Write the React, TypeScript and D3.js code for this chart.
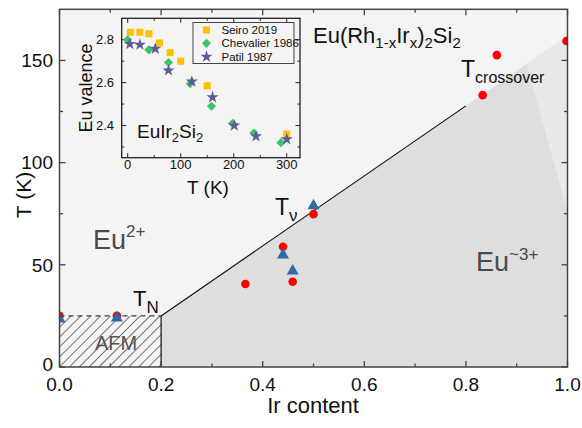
import React from "react";
import * as d3 from "d3";

// main panel data
const redX = [0, 0.113, 0.366, 0.44, 0.459, 0.5, 0.833, 0.861, 0.998];
const redT = [25, 25, 40.6, 58.8, 41.7, 74.8, 133, 152.6, 159.5];
const blueX = [0, 0.113, 0.44, 0.459, 0.5];
const blueT = [23.5, 24, 54.8, 47, 78.9];

const tnT = 25; // AFM ordering temperature
const afmEdge = 0.2;
const boundary = [[0.2, 25], [1.0, 162]];
const lineEnd = 0.8;
const wedge = [[0.919, 148.5], [1.0, 162], [1.0, 76]];

const xMajor = [0, 0.2, 0.4, 0.6, 0.8, 1.0];
const xMinor = [0.1, 0.3, 0.5, 0.7, 0.9];
const yMajor = [0, 50, 100, 150];
const yMinor = [25, 75, 125];

// inset data: Eu valence vs T
const seiroT = [5, 23, 40, 60, 80, 100, 150, 300];
const seiroV = [2.835, 2.835, 2.828, 2.785, 2.74, 2.7, 2.585, 2.36];
const chevT = [0, 40, 77, 118, 158, 198, 238, 289];
const chevV = [2.8, 2.753, 2.694, 2.595, 2.49, 2.41, 2.365, 2.32];
const patilT = [4, 23, 52, 77, 121, 160, 201, 242, 300];
const patilV = [2.78, 2.777, 2.758, 2.657, 2.605, 2.532, 2.4, 2.35, 2.336];

const ixMajor = [0, 100, 200, 300];
const ixMinor = [50, 150, 250];
const iyMajor = [2.4, 2.6, 2.8];
const iyMinor = [2.3, 2.5, 2.7];

const FONT = "Liberation Sans, Arial, sans-serif";

export default function App() {
  const x = d3.scaleLinear().domain([0, 1]).range([59.5, 567.5]);
  const y = d3.scaleLinear().domain([0, 175]).range([367, 9.3]);
  const ix = d3.scaleLinear().domain([-11.3, 325]).range([121.7, 300]);
  const iy = d3.scaleLinear().domain([2.25, 2.9]).range([157.7, 18.3]);

  const [x0, x1] = x.range();
  const [y0, y1] = y.range();
  const [ix0, ix1] = ix.range();
  const [iy0, iy1] = iy.range();

  const poly = d3.line<number[]>().x(d => x(d[0])).y(d => y(d[1]));
  const slope = (boundary[1][1] - boundary[0][1]) / (boundary[1][0] - boundary[0][0]);
  const darkPoly: number[][] = [[afmEdge, 0], boundary[0], boundary[1], [1, 0]];
  const lineEndT = boundary[0][1] + slope * (lineEnd - boundary[0][0]);

  const tri = d3.symbol(d3.symbolTriangle, 62)();
  const sq = d3.symbol(d3.symbolSquare, 50)();
  const dia = d3.symbol(d3.symbolSquare, 42)();
  const star = d3.symbol(d3.symbolStar, 46)();

  const axisCol = "#444";

  return (
    <svg width={582} height={428} style={{ position: "absolute", left: 0, top: 0 }} fontFamily={FONT}>
      <defs>
        <clipPath id="plot">
          <rect x={x0} y={y1} width={x1 - x0} height={y0 - y1} />
        </clipPath>
        <pattern id="hatch" patternUnits="userSpaceOnUse" width={7} height={7} patternTransform="rotate(45)">
          <line x1={0} y1={0} x2={0} y2={7} stroke="#1a1a1a" strokeWidth={1.2} />
        </pattern>
      </defs>
      <rect x={0} y={0} width={582} height={428} fill="#fff" />
      <rect x={x0} y={y1} width={x1 - x0} height={y0 - y1} fill="#f4f4f4" />
      <path d={poly(darkPoly) + "Z"} fill="#dedede" />
      <path d={poly(wedge) + "Z"} fill="#e9e9e9" />
      <rect x={x(0)} y={y(tnT)} width={x(afmEdge) - x(0)} height={y(0) - y(tnT)} fill="url(#hatch)" />
      <line x1={x(0)} x2={x(afmEdge)} y1={y(tnT)} y2={y(tnT)} stroke="#111" strokeWidth={1} strokeDasharray="5,4" />
      <line x1={x(afmEdge)} x2={x(afmEdge)} y1={y(0)} y2={y(tnT)} stroke="#111" strokeWidth={1.2} />
      <line x1={x(boundary[0][0])} y1={y(boundary[0][1])} x2={x(lineEnd)} y2={y(lineEndT)} stroke="#111" strokeWidth={1.2} />

      <g clipPath="url(#plot)">
        {redX.map((d, i) => (
          <circle key={"r" + i} cx={x(d)} cy={y(redT[i])} r={4.3} fill="#ff0000" />
        ))}
        {blueX.map((d, i) => (
          <path key={"b" + i} d={tri!} transform={`translate(${x(d)},${y(blueT[i])})`} fill="#2f6ba6" />
        ))}
      </g>

      {/* main frame and ticks */}
      <rect x={x0} y={y1} width={x1 - x0} height={y0 - y1} fill="none" stroke={axisCol} strokeWidth={1.5} />
      {xMajor.concat(xMinor).map((d, i) => {
        const len = i < xMajor.length ? 6 : 3.5;
        return (
          <g key={"xt" + i} stroke={axisCol} strokeWidth={1.3}>
            <line x1={x(d)} x2={x(d)} y1={y0} y2={y0 - len} />
            <line x1={x(d)} x2={x(d)} y1={y1} y2={y1 + len} />
          </g>
        );
      })}
      {yMajor.concat(yMinor).map((d, i) => {
        const len = i < yMajor.length ? 6 : 3.5;
        return (
          <g key={"yt" + i} stroke={axisCol} strokeWidth={1.3}>
            <line x1={x0} x2={x0 + len} y1={y(d)} y2={y(d)} />
            <line x1={x1} x2={x1 - len} y1={y(d)} y2={y(d)} />
          </g>
        );
      })}
      {xMajor.map(d => (
        <text key={"xl" + d} x={x(d)} y={391} fontSize={19} textAnchor="middle" fill="#111">
          {d3.format(".1f")(d)}
        </text>
      ))}
      {yMajor.map(d => (
        <text key={"yl" + d} x={53} y={y(d) - (d === 0 ? 3 : 0)} dy="0.36em" fontSize={19} textAnchor="end" fill="#111">
          {d}
        </text>
      ))}
      <text x={313} y={413} fontSize={22} textAnchor="middle" fill="#111">Ir content</text>
      <text transform="translate(31,195) rotate(-90)" fontSize={21} textAnchor="middle" fill="#111">T (K)</text>

      {/* annotations */}
      <text x={313} y={43} fontSize={22} fill="#111">
        Eu(Rh<tspan fontSize={15} dy={5}>1-x</tspan>
        <tspan dy={-5}>Ir</tspan><tspan fontSize={15} dy={5}>x</tspan>
        <tspan dy={-5}>)</tspan><tspan fontSize={15} dy={5}>2</tspan>
        <tspan dy={-5}>Si</tspan><tspan fontSize={15} dy={5}>2</tspan>
      </text>
      <text x={461} y={77} fontSize={23} fill="#111">
        T<tspan fontSize={16} dy={6}>crossover</tspan>
      </text>
      <text x={275} y={215} fontSize={23} fill="#111">
        T<tspan fontSize={17} dy={6}>ν</tspan>
      </text>
      <text x={133} y={306} fontSize={22} fill="#111">
        T<tspan fontSize={17} dy={7}>N</tspan>
      </text>
      <text x={116} y={350} fontSize={20} textAnchor="middle" fill="#555">AFM</text>
      <text x={93} y={249} fontSize={27} fill="#4a4a4a">
        Eu<tspan fontSize={17} dy={-12}>2+</tspan>
      </text>
      <text x={476} y={271} fontSize={27} fill="#4a4a4a">
        Eu<tspan fontSize={17} dy={-11}>~3+</tspan>
      </text>

      {/* inset */}
      <rect x={ix0} y={iy1} width={ix1 - ix0} height={iy0 - iy1} fill="#f4f4f4" stroke="#222" strokeWidth={1.3} />
      {ixMajor.concat(ixMinor).map((d, i) => {
        const len = i < ixMajor.length ? 4.5 : 2.5;
        return (
          <g key={"ixt" + i} stroke="#222" strokeWidth={1}>
            <line x1={ix(d)} x2={ix(d)} y1={iy0} y2={iy0 - len} />
            <line x1={ix(d)} x2={ix(d)} y1={iy1} y2={iy1 + len} />
          </g>
        );
      })}
      {iyMajor.concat(iyMinor).map((d, i) => {
        const len = i < iyMajor.length ? 4.5 : 2.5;
        return (
          <g key={"iyt" + i} stroke="#222" strokeWidth={1}>
            <line x1={ix0} x2={ix0 + len} y1={iy(d)} y2={iy(d)} />
            <line x1={ix1} x2={ix1 - len} y1={iy(d)} y2={iy(d)} />
          </g>
        );
      })}
      {ixMajor.map(d => (
        <text key={"ixl" + d} x={ix(d)} y={169} fontSize={13} textAnchor="middle" fill="#111">{d}</text>
      ))}
      {iyMajor.map(d => (
        <text key={"iyl" + d} x={114} y={iy(d)} dy="0.36em" fontSize={13} textAnchor="end" fill="#111">
          {d.toFixed(1)}
        </text>
      ))}
      <text x={208} y={194} fontSize={19} textAnchor="middle" fill="#111">T (K)</text>
      <text transform="translate(92,88) rotate(-90)" fontSize={18} textAnchor="middle" fill="#111">Eu valence</text>
      <text x={137} y={138} fontSize={19} fill="#111">
        EuIr<tspan fontSize={13} dy={4}>2</tspan>
        <tspan dy={-4}>Si</tspan><tspan fontSize={13} dy={4}>2</tspan>
      </text>

      {seiroT.map((d, i) => (
        <path key={"s" + i} d={sq!} transform={`translate(${ix(d)},${iy(seiroV[i])})`} fill="#ffc000" />
      ))}
      {chevT.map((d, i) => (
        <path key={"c" + i} d={dia!} transform={`translate(${ix(d)},${iy(chevV[i])}) rotate(45)`} fill="#3cc46a" />
      ))}
      {patilT.map((d, i) => (
        <path key={"p" + i} d={star!} transform={`translate(${ix(d)},${iy(patilV[i])})`} fill="#5b5b99" />
      ))}

      {/* legend */}
      <rect x={193} y={22.5} width={101} height={41} fill="#f4f4f4" stroke="#444" strokeWidth={1} />
      <path d={sq!} transform="translate(206.5,30)" fill="#ffc000" />
      <path d={dia!} transform="translate(206.5,43.3) rotate(45)" fill="#3cc46a" />
      <path d={star!} transform="translate(206.5,56.7)" fill="#5b5b99" />
      <text x={221.5} y={30} dy="0.35em" fontSize={11.5} fill="#111">Seiro 2019</text>
      <text x={221.5} y={43.3} dy="0.35em" fontSize={11.5} fill="#111">Chevalier 1986</text>
      <text x={221.5} y={56.7} dy="0.35em" fontSize={11.5} fill="#111">Patil 1987</text>
    </svg>
  );
}
